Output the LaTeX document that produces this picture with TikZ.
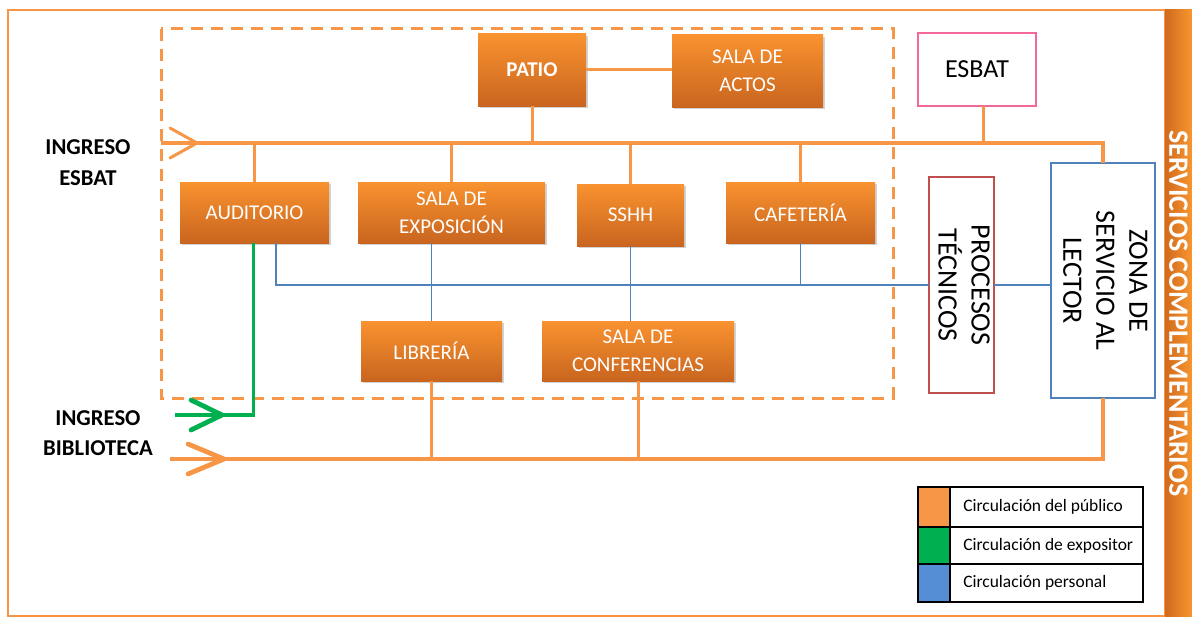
\documentclass[tikz,border=0pt]{standalone}
\usepackage{fontspec}
\setmainfont{Carlito}
\usetikzlibrary{shadows}
\definecolor{pub}{HTML}{F79646}
\definecolor{boxtop}{HTML}{F9922F}
\definecolor{boxbot}{HTML}{C9651F}
\definecolor{expo}{HTML}{00B050}
\definecolor{pers}{HTML}{4F81BD}
\definecolor{persleg}{HTML}{558ED5}
\definecolor{esbatpink}{HTML}{F4679B}
\definecolor{procred}{HTML}{C0504D}
\definecolor{bardark}{HTML}{D06A1E}
\definecolor{barlight}{HTML}{F8962F}
\begin{document}
\begin{tikzpicture}[x=0.75pt,y=-0.75pt,
  room/.style={rectangle, inner sep=0pt, outer sep=0pt, top color=boxtop, bottom color=boxbot,
    text=white, align=center, font=\fontsize{15.75}{21}\selectfont,
    drop shadow={shadow xshift=1.2pt, shadow yshift=-1.8pt, opacity=0.35}},
  framebox/.style={rectangle, inner sep=0pt, outer sep=0pt, fill=white, text=black, align=center},
  publine/.style={draw=pub, line width=2.25pt},
  mainline/.style={draw=pub, line width=3pt},
  persline/.style={draw=pers, line width=1.1pt},
  expoline/.style={draw=expo, line width=2.5pt},
  chev/.style={line cap=round, line join=round},
  ingreso/.style={font=\bfseries\fontsize{17}{23}\selectfont, align=center, text=black},
  legtext/.style={font=\fontsize{13.1}{16}\selectfont, anchor=west, inner sep=0pt}]

\useasboundingbox (0,0) rectangle (1192,617);
\fill[white] (0,0) rectangle (1192,617);
\draw[draw=pub, line width=2pt] (8,10) rectangle (1165,616);

% side bar
\node[rectangle, inner sep=0pt, outer sep=0pt, left color=bardark, right color=barlight,
  minimum width=20.25pt, minimum height=455.25pt, text=white,
  font=\bfseries\fontsize{21}{24}\selectfont] (barra) at (1178.5,313.5)
  {\rotatebox{-90}{SERVICIOS COMPLEMENTARIOS}};

% dashed zone
\draw[draw=pub, line width=2.25pt, dash pattern=on 9pt off 6pt] (161,29) rectangle (893,398);

% rooms
\node[room, minimum width=81pt, minimum height=54pt, font=\bfseries\fontsize{15.75}{21}\selectfont] (patio) at (532,70) {PATIO};
\node[room, minimum width=113.25pt, minimum height=54pt] (actos) at (747.5,71) {SALA DE\\ACTOS};
\node[framebox, draw=esbatpink, line width=2.2pt, minimum width=88.5pt, minimum height=54.75pt,
  font=\fontsize{19.5}{23}\selectfont] (esbat) at (977,69.5) {ESBAT};
\node[room, minimum width=111.75pt, minimum height=45.75pt] (auditorio) at (254.5,212.5) {AUDITORIO};
\node[room, minimum width=140.25pt, minimum height=45.75pt] (expo) at (451.5,212.5) {SALA DE\\EXPOSICIÓN};
\node[room, minimum width=80.25pt, minimum height=46.5pt] (sshh) at (630.5,215) {SSHH};
\node[room, minimum width=111.75pt, minimum height=45.75pt] (cafe) at (800.5,212.5) {CAFETERÍA};
\node[room, minimum width=105.75pt, minimum height=45pt] (libreria) at (431.5,351) {LIBRERÍA};
\node[room, minimum width=144pt, minimum height=45pt] (conf) at (638,351) {SALA DE\\CONFERENCIAS};
\node[framebox, draw=procred, line width=1.9pt, minimum width=48.75pt, minimum height=162pt,
  font=\fontsize{21}{24}\selectfont] (procesos) at (961.5,285)
  {\rotatebox{-90}{\begin{tabular}{@{}c@{}}PROCESOS\\TÉCNICOS\end{tabular}}};
\node[framebox, draw=pers, line width=1.9pt, minimum width=78pt, minimum height=176.25pt,
  font=\fontsize{21}{24.75}\selectfont] (zona) at (1103,280.5)
  {\rotatebox{-90}{\begin{tabular}{@{}c@{}}ZONA DE\\SERVICIO AL\\LECTOR\end{tabular}}};

% entrance labels
\node[ingreso] (lblesbat) at (88,162.5) {INGRESO\\ESBAT};
\node[ingreso] (lblbib) at (98,433) {INGRESO\\BIBLIOTECA};

% entrance coordinates
\coordinate (inE) at (161,143);
\coordinate (tipE) at (197,143);
\coordinate (inB) at (175,415);
\coordinate (tipB) at (222,415);
\coordinate (inL) at (170,459);
\coordinate (tipL) at (224,459);

% public circulation (top)
\draw[publine] (patio.east) -- (actos.west |- patio.east);
\draw[publine] (patio.south) -- (patio.south |- inE);
\draw[publine] ([xshift=4.5pt]esbat.south) -- ([xshift=4.5pt]esbat.south |- inE);
\draw[publine] (auditorio.north) -- (auditorio.north |- inE);
\draw[publine] (expo.north) -- (expo.north |- inE);
\draw[publine] (sshh.north) -- (sshh.north |- inE);
\draw[publine] (cafe.north) -- (cafe.north |- inE);
\draw[mainline] (inE) -- (inE -| zona.north) -- (zona.north);
\draw[publine, chev] ([shift={(-27,-15)}]tipE) -- (tipE) -- ([shift={(-27,15)}]tipE);

% public circulation (bottom)
\draw[publine] (libreria.south) -- (libreria.south |- inL);
\draw[publine] (conf.south) -- (conf.south |- inL);
\draw[mainline] (inL) -- (inL -| zona.south) -- (zona.south);
\draw[publine, chev, line width=3.6pt] ([shift={(-36,-15)}]tipL) -- (tipL) -- ([shift={(-36,15)}]tipL);

% exhibitor circulation
\draw[expoline] ([xshift=-1pt]auditorio.south) -- ([xshift=-1pt]auditorio.south |- inB) -- (inB);
\draw[expoline, chev, line width=3.6pt] ([shift={(-31,-15)}]tipB) -- (tipB) -- ([shift={(-31,15)}]tipB);

% staff circulation
\draw[persline] ([xshift=16.1pt]auditorio.south) -- ([xshift=16.1pt]auditorio.south |- procesos.west) -- (procesos.west);
\draw[persline] (cafe.south) -- (cafe.south |- procesos.west);
\draw[persline] (procesos.east) -- (procesos.east -| zona.west);
\draw[persline] (libreria.north |- expo.south) -- (libreria.north);
\draw[persline] (sshh.south) -- (sshh.south |- conf.north);

% legend
\fill[pub] (918,487) rectangle (950,527);
\fill[expo] (918,527) rectangle (950,564);
\fill[persleg] (918,564) rectangle (950,602);
\draw[black, line width=1.2pt] (918,487) rectangle (1143,602);
\draw[black, line width=1.2pt] (918,527) -- (1143,527);
\draw[black, line width=1.2pt] (918,564) -- (1143,564);
\draw[black, line width=1.2pt] (950,487) -- (950,602);
\node[legtext] (leg1) at (963,507) {Circulación del público};
\node[legtext] (leg2) at (963,545.5) {Circulación de expositor};
\node[legtext] (leg3) at (963,583) {Circulación personal};
\end{tikzpicture}
\end{document}
